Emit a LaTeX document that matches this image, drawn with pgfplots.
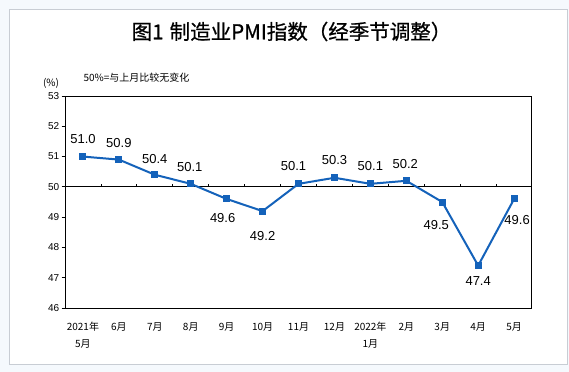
\documentclass[border=0pt]{standalone}
\usepackage{fontspec}
\usepackage{pgfplots}
\pgfplotsset{compat=1.18}
\usepackage{pgfplotstable}
\setmainfont{Liberation Sans}
\newfontfamily\cjk{Noto Sans CJK SC}
\newfontfamily\cjkt{Noto Sans CJK SC}[FakeBold=0.8]
\definecolor{bgc}{RGB}{245,249,253}
\definecolor{framec}{RGB}{200,205,212}
\definecolor{lineblue}{RGB}{20,98,186}

\pgfplotstableread{
x y dy dx
0 51.0 18 0
1 50.9 17 0
2 50.4 16 0
3 50.1 17 -1
4 49.6 -19 -4
5 49.2 -25 0
6 50.1 18 -5
7 50.3 17.6 0
8 50.1 18 0
9 50.2 17 -1
10 49.5 -23 -6
11 47.4 -15.5 0
12 49.6 -21 3
}\pmidata

\begin{document}
\begin{tikzpicture}
\fill[bgc] (0bp,0bp) rectangle (569bp,372bp);
\fill[white] (9bp,8bp) rectangle (567bp,362.5bp);
\draw[framec, line width=0.8bp] (9bp,8bp) rectangle (567bp,362.5bp);
\node[font=\cjkt\fontsize{20.5bp}{24bp}\selectfont] at (291.5bp,340.5bp) {图1\hspace{0.3em}制造业PMI指数（经季节调整）};
\node[font=\cjk\fontsize{10bp}{12bp}\selectfont] at (51bp,289bp) {(\%)};
\node[font=\cjk\fontsize{10bp}{12bp}\selectfont, anchor=west] at (80bp,294bp) {50\%=与上月比较无变化};
\begin{axis}[
  at={(65.7bp,64bp)}, anchor=south west,
  scale only axis, width=465.3bp, height=212bp,
  xmin=-0.48, xmax=12.47, ymin=46, ymax=53,
  ytick={46,47,48,49,50,51,52,53},
  xtick={0,1,2,3,4,5,6,7,8,9,10,11,12},
  xticklabels={{2021年\\5月},6月,7月,8月,9月,10月,11月,12月,{2022年\\1月},2月,3月,4月,5月},
  xticklabel style={font=\cjk\fontsize{10bp}{17bp}\selectfont, align=center, anchor=north, yshift=-7bp},
  yticklabel style={font=\fontsize{10bp}{12bp}\selectfont, xshift=1bp},
  /pgf/number format/assume math mode=true,
  xtick style={/pgfplots/major tick length=0pt},
  ytick pos=left, tick align=outside, major tick length=4bp,
  axis line style={black, line width=0.8bp},
  ytick style={black, line width=0.8bp},
  clip=false,
]
\draw[black, line width=0.8bp] (axis cs:-0.48,50) -- (axis cs:12.47,50);
\pgfplotsinvokeforeach{0.5,1.5,2.5,3.5,4.5,5.5,6.5,7.5,8.5,9.5,10.5,11.5}{
  \draw[black, line width=0.8bp] (axis cs:#1,50) -- ++(0bp,3bp);
}
\addplot[lineblue, line width=2bp, mark=square*, mark size=2.5bp,
  mark options={fill=lineblue},
  visualization depends on={\thisrow{dy} \as \dy},
  visualization depends on={\thisrow{dx} \as \dx},
  point meta=y,
  nodes near coords={\pgfmathprintnumber[fixed,fixed zerofill,precision=1]{\pgfplotspointmeta}},
  every node near coord/.append style={anchor=center, xshift=\dx bp, yshift=\dy bp, text=black, font=\fontsize{13bp}{15bp}\selectfont},
] table[x=x,y=y] {\pmidata};
\end{axis}
\end{tikzpicture}
\end{document}
